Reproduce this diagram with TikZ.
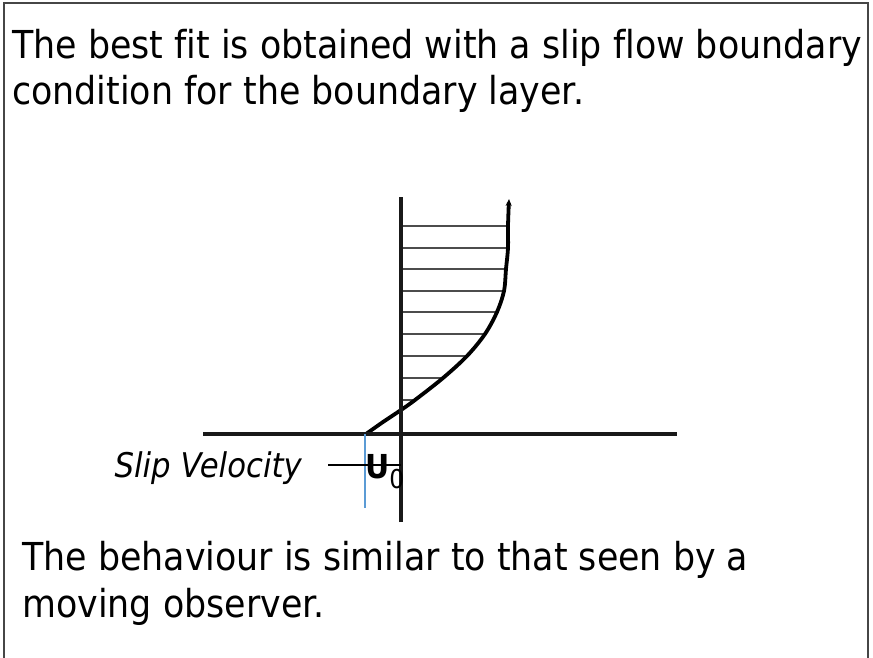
\documentclass[tikz,border=0pt]{standalone}
\usepackage{fontspec}
\setmainfont{DejaVu Sans}[FakeStretch=0.905, Ligatures=NoCommon]
\definecolor{slipblue}{RGB}{91,155,213}
\definecolor{framegray}{RGB}{70,70,70}
\usetikzlibrary{calc, positioning, arrows.meta}

\begin{document}
\begin{tikzpicture}[x=1pt, y=-1pt,
    para/.style={anchor=base west, inner sep=0pt, align=left,
      font=\fontsize{38.5}{46.5}\selectfont},
    axis/.style={line width=3.2pt, draw=black!90},
    hatch/.style={line width=1.3pt, draw=black!70},
    profile/.style={line width=3.8pt, line cap=round,
      -{Stealth[length=7pt, width=6pt]}},
  ]
  \useasboundingbox (0,0) rectangle (873,658);
  \draw[framegray, line width=1.4pt] (4,658) -- (4,3) -- (868,3) -- (868,658);

  % base anchor sits on the last line
  \node[para] (top) at (12,105) {The best fit is obtained with a slip flow boundary\\condition for the boundary layer.};
  \node[para] (bottom) at (22,617) {The behaviour is similar to that seen by a\\moving observer.};

  % axes
  \coordinate (origin) at (401,434);
  \coordinate (ytop) at (401,197);
  \coordinate (ybot) at (401,522);
  \coordinate (xleft) at (203,434);
  \coordinate (xright) at (677,434);

  % velocity profile
  \foreach \y/\x in {226/508, 248/508, 269/506, 291/504, 312/497,
                     334/485, 356/467, 378/443, 400/415}
    \draw[hatch] (403,\y) -- (\x,\y);
  \draw[profile] plot[smooth, tension=0.55] coordinates {
    (366,434) (383,422) (401,410) (415,400) (443,378) (467,356)
    (485,334) (497,312) (504,291) (506,269) (508,248) (508,226) (509,199)};

  \draw[axis] (xleft) -- (xright);
  \draw[axis] (ybot) -- (ytop);

  % slip velocity at the wall
  \coordinate (wall) at (365,434);
  \draw[slipblue, line width=2pt] (wall) -- ++(0,74);
  \node[anchor=base east, inner sep=0pt, font=\fontsize{34}{34}\selectfont\itshape]
    (slip) at (302,477) {Slip Velocity};
  \coordinate (ptr) at (328,465);
  \draw[line width=1.1pt] (ptr) -- (ptr -| origin);
  \node[anchor=base west, inner sep=0pt, font=\fontsize{33}{33}\selectfont]
    (u0) at (365,478) {\textbf{U}\raisebox{-10pt}{\fontsize{26}{26}\selectfont 0}};
\end{tikzpicture}
\end{document}
